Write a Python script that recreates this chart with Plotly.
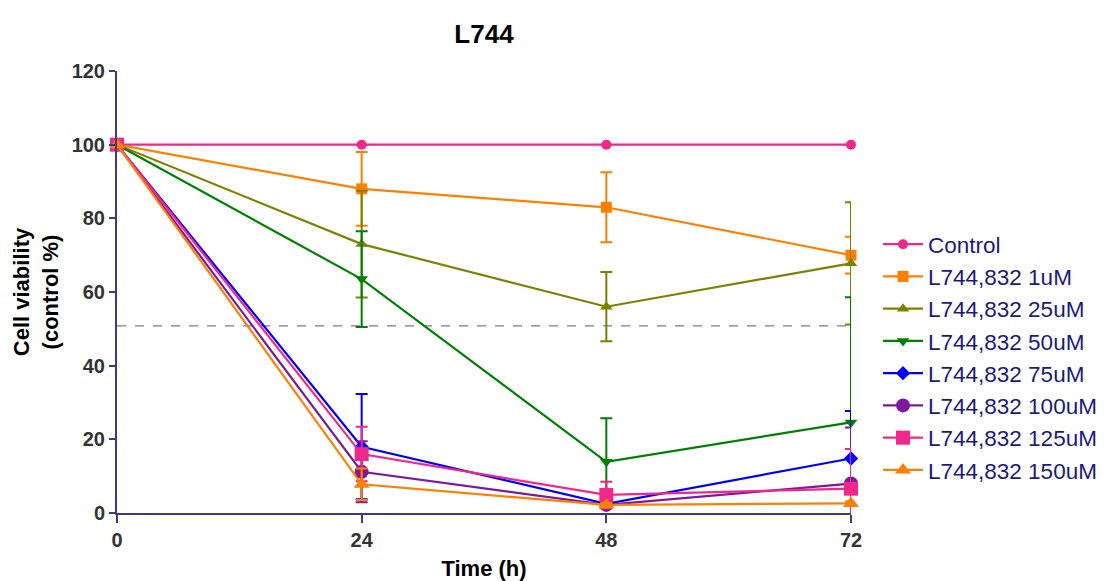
import plotly.graph_objects as go

time_h = [0, 24, 48, 72]
series_names = ["Control", "L744,832 1uM", "L744,832 25uM", "L744,832 50uM",
                "L744,832 75uM", "L744,832 100uM", "L744,832 125uM", "L744,832 150uM"]

control = [100, 100, 100, 100]
uM1 = [100, 88.0, 83.0, 70.0]
uM25 = [100, 73.0, 56.0, 67.8]
uM50 = [100, 63.5, 13.9, 24.6]
uM75 = [100, 18.0, 2.5, 14.8]
uM100 = [100, 11.2, 2.2, 8.0]
uM125 = [100, 16.0, 4.9, 6.6]
uM150 = [100, 7.8, 2.2, 2.6]

err_control = [0, 0, 0, 0]
err_1 = [0, 10.0, 9.5, 5.0]
err_25 = [0, 14.5, 9.4, 16.6]
err_50 = [0, 13.0, 11.8, 34.0]
err_75 = [0, 14.3, 0.8, 12.9]
err_100 = [0, 8.3, 0.5, 15.2]
err_125 = [0, 7.4, 3.6, 10.8]
err_150 = [0, 4.3, 0.5, 0.6]

threshold = 50.8
y_ticks = [0, 20, 40, 60, 80, 100, 120]

values = [control, uM1, uM25, uM50, uM75, uM100, uM125, uM150]
errors = [err_control, err_1, err_25, err_50, err_75, err_100, err_125, err_150]
colors = ["#F0288C", "#FF8000", "#808000", "#008000", "#0000FF", "#7B1A9E", "#F0288C", "#FF8000"]
symbols = ["circle", "square", "triangle-up", "triangle-down", "diamond", "circle", "square", "triangle-up"]
sizes = [10, 11, 11, 11, 11, 14, 14, 14]

fig = go.Figure()

fig.add_trace(go.Scatter(x=[time_h[0], time_h[-1]], y=[threshold, threshold], mode="lines",
                         line=dict(color="#7878A0", width=1.2, dash="dash"),
                         showlegend=False, hoverinfo="skip"))

for name, v, e, c, s, sz in zip(series_names, values, errors, colors, symbols, sizes):
    fig.add_trace(go.Scatter(
        x=time_h, y=v, name=name, mode="lines+markers",
        line=dict(color=c, width=2.2),
        marker=dict(color=c, symbol=s, size=sz),
        error_y=dict(type="data", array=e, visible=True, color=c, thickness=2, width=6),
        cliponaxis=False,
    ))

FONT = "Liberation Sans, Arial"
axis_font = dict(family=FONT, size=20, color="#333333")
fig.update_layout(
    width=1108, height=581,
    margin=dict(l=109, r=265, t=63, b=76, autoexpand=False),
    plot_bgcolor="white", paper_bgcolor="white",
    title=dict(text="<b>L744</b>", x=0.5, xref="paper", y=0.955, yanchor="middle",
               font=dict(family=FONT, size=26, color="#000000")),
    xaxis=dict(range=[0, 72], tickvals=time_h, ticktext=[f"<b>{t}</b>" for t in time_h],
               showline=True, linecolor="#3C3C82", linewidth=2, ticks="outside",
               tickcolor="#3C3C82", tickwidth=2, ticklen=8, showgrid=False, zeroline=False,
               tickfont=axis_font,
               title=dict(text="<b>Time (h)</b>", font=dict(family=FONT, size=22, color="#000000"), standoff=11)),
    yaxis=dict(range=[0, 120], tickvals=y_ticks, ticktext=[f"<b>{t}</b>" for t in y_ticks],
               showline=True, linecolor="#3C3C82", linewidth=2, ticks="outside",
               tickcolor="#3C3C82", tickwidth=2, ticklen=6, showgrid=False, zeroline=False,
               tickfont=axis_font,
               title=dict(text="<b>Cell viability<br>(control %)</b>", font=dict(family=FONT, size=22, color="#000000"), standoff=7)),
    legend=dict(x=1.0368, y=0.656, xanchor="left", yanchor="top",
                font=dict(family=FONT, size=22.5, color="#1A1A80"),
                bgcolor="rgba(0,0,0,0)", tracegroupgap=0, itemwidth=40),
)

fig.write_html("out.html")
